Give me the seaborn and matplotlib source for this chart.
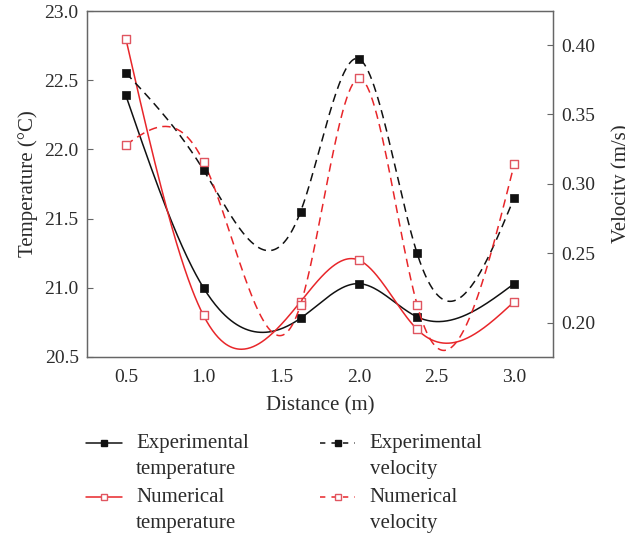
import numpy as np
import pandas as pd
import matplotlib
matplotlib.use("Agg")
import matplotlib.pyplot as plt
from matplotlib.lines import Line2D
from matplotlib.legend_handler import HandlerLine2D
import seaborn as sns

# Measurement positions along the duct (m)
distance = [0.5, 1.0, 1.625, 2.0, 2.375, 3.0]

# Temperatures (°C)
exp_temperature = [22.39, 21.00, 20.78, 21.03, 20.79, 21.03]
num_temperature = [22.80, 20.80, 20.90, 21.20, 20.70, 20.90]

# Velocities (m/s)
exp_velocity = [0.380, 0.310, 0.280, 0.390, 0.250, 0.290]
num_velocity = [0.328, 0.316, 0.213, 0.376, 0.213, 0.314]

x_ticks = [0.5, 1.0, 1.5, 2.0, 2.5, 3.0]
temp_ticks = [20.5, 21.0, 21.5, 22.0, 22.5, 23.0]
vel_ticks = [0.20, 0.25, 0.30, 0.35, 0.40]


def natural_spline(x, y, n=400):
    """Natural cubic spline through (x, y), sampled on n points."""
    x = np.asarray(x, float)
    y = np.asarray(y, float)
    m = len(x)
    h = np.diff(x)
    A = np.zeros((m, m))
    b = np.zeros(m)
    A[0, 0] = A[-1, -1] = 1.0
    for i in range(1, m - 1):
        A[i, i - 1] = h[i - 1]
        A[i, i] = 2 * (h[i - 1] + h[i])
        A[i, i + 1] = h[i]
        b[i] = 6 * ((y[i + 1] - y[i]) / h[i] - (y[i] - y[i - 1]) / h[i - 1])
    M = np.linalg.solve(A, b)
    xs = np.linspace(x[0], x[-1], n)
    idx = np.clip(np.searchsorted(x, xs) - 1, 0, m - 2)
    x0, x1 = x[idx], x[idx + 1]
    hh = x1 - x0
    t0, t1 = x1 - xs, xs - x0
    ys = (M[idx] * t0**3 + M[idx + 1] * t1**3) / (6 * hh) \
        + (y[idx] / hh - M[idx] * hh / 6) * t0 \
        + (y[idx + 1] / hh - M[idx + 1] * hh / 6) * t1
    return pd.DataFrame({"x": xs, "y": ys})


class FirstLineHandler(HandlerLine2D):
    """Line handle raised to sit beside the first line of a two-line label."""

    def __init__(self, dy, **kw):
        super().__init__(**kw)
        self.dy = dy

    def create_artists(self, legend, orig_handle, xdescent, ydescent,
                       width, height, fontsize, trans):
        arts = super().create_artists(legend, orig_handle, xdescent, ydescent,
                                      width, height, fontsize, trans)
        for a in arts:
            a.set_ydata(np.asarray(a.get_ydata(), float) + self.dy)
        return arts


sns.set_theme(style="white")
plt.rcParams["font.family"] = ["Liberation Serif", "DejaVu Serif"]
plt.rcParams["text.color"] = "#2b2b2b"
plt.rcParams["axes.labelcolor"] = "#2b2b2b"
plt.rcParams["xtick.color"] = "#666666"
plt.rcParams["ytick.color"] = "#666666"
plt.rcParams["xtick.labelcolor"] = "#2b2b2b"
plt.rcParams["ytick.labelcolor"] = "#2b2b2b"

BLACK = "#111111"
RED = "#e8262a"
RED_MARK = "#e05560"
LW = 1.1
DASH = (0, (5.5, 3.5))

fig = plt.figure(figsize=(6.25, 5.4), dpi=100)
ax = fig.add_axes([0.1392, 0.3389, 0.7456, 0.6407])
ax2 = ax.twinx()

# Temperature on the left axis
for vals, col in [(exp_temperature, BLACK), (num_temperature, RED)]:
    sns.lineplot(data=natural_spline(distance, vals), x="x", y="y", ax=ax,
                 color=col, lw=LW, estimator=None, sort=False)
sns.scatterplot(x=distance, y=exp_temperature, ax=ax, marker="s", s=30,
                color=BLACK, edgecolor=BLACK, linewidth=0.5, zorder=5)
sns.scatterplot(x=distance, y=num_temperature, ax=ax, marker="s", s=30,
                facecolor="white", edgecolor=RED_MARK, linewidth=1.0, zorder=5)

# Velocity on the right axis
for vals, col in [(exp_velocity, BLACK), (num_velocity, RED)]:
    sns.lineplot(data=natural_spline(distance, vals), x="x", y="y", ax=ax2,
                 color=col, lw=LW, linestyle=DASH, estimator=None, sort=False)
sns.scatterplot(x=distance, y=exp_velocity, ax=ax2, marker="s", s=30,
                color=BLACK, edgecolor=BLACK, linewidth=0.5, zorder=5)
sns.scatterplot(x=distance, y=num_velocity, ax=ax2, marker="s", s=30,
                facecolor="white", edgecolor=RED_MARK, linewidth=1.0, zorder=5)

ax.set_xlim(0.25, 3.25)
ax.set_ylim(20.5, 23.0)
ax2.set_ylim(0.1753, 0.4245)
ax.set_xticks(x_ticks)
ax.set_xticklabels([f"{v:.1f}" for v in x_ticks])
ax.set_yticks(temp_ticks)
ax.set_yticklabels([f"{v:.1f}" for v in temp_ticks])
ax2.set_yticks(vel_ticks)
ax2.set_yticklabels([f"{v:.2f}" for v in vel_ticks])

for a in (ax, ax2):
    a.tick_params(direction="in", length=4, width=0.8, labelsize=14, pad=6)
    for sp in a.spines.values():
        sp.set_color("#666666")
        sp.set_linewidth(0.9)
    a.grid(False)
ax.tick_params(axis="x", pad=9)

ax.set_xlabel("Distance (m)", fontsize=15, labelpad=7)
ax.set_ylabel("Temperature (°C)", fontsize=15)
ax2.set_ylabel("Velocity (m/s)", fontsize=15)
ax.yaxis.set_label_coords(-0.105, 0.5)
ax2.yaxis.set_label_coords(1.125, 0.5)

handles = [
    Line2D([], [], color=BLACK, lw=LW, marker="s", ms=5, mfc=BLACK, mec=BLACK),
    Line2D([], [], color=RED, lw=LW, marker="s", ms=5, mfc="white", mec=RED_MARK),
    Line2D([], [], color=BLACK, lw=LW, ls=(0, (3.5, 4)), marker="s", ms=5,
           mfc=BLACK, mec=BLACK),
    Line2D([], [], color=RED, lw=LW, ls=(0, (3.5, 4)), marker="s", ms=5,
           mfc="white", mec=RED_MARK),
]
labels = ["Experimental\ntemperature", "Numerical\ntemperature",
          "Experimental\nvelocity", "Numerical\nvelocity"]
raise_pt = 9.4
leg = fig.legend(handles, labels, loc="upper left", bbox_to_anchor=(0.138, 0.196),
                 ncol=2, frameon=False, fontsize=15, handlelength=1.7,
                 handletextpad=0.7, columnspacing=3.4, labelspacing=0.45,
                 borderaxespad=0, borderpad=0,
                 handler_map={h: FirstLineHandler(raise_pt) for h in handles})
for t in leg.get_texts():
    t.set_linespacing(1.47)

for a in (ax, ax2):
    if a.get_legend() is not None:
        a.get_legend().remove()

fig.savefig("out.png", dpi=100)
